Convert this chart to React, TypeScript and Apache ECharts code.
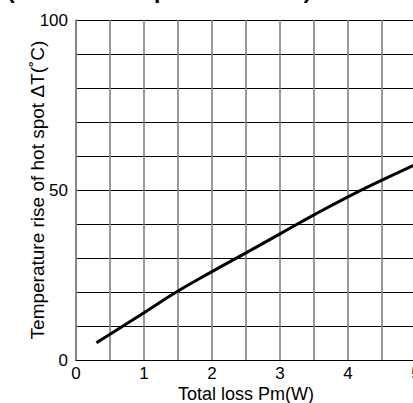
import React, { useEffect, useRef } from "react";
import * as echarts from "echarts";

const titleText = "(Ambient temperature 25°C)";
const xAxisName = "Total loss Pm(W)";
const yAxisName = "Temperature rise of hot spot ΔT(˚C)";
const xTickLabels = ["0", "1", "2", "3", "4", "5"];
const yTickLabels = ["0", "50", "100"];
const lossW = [0.3, 0.5, 1.0, 1.5, 2.0, 2.5, 3.0, 3.5, 4.0, 4.5, 5.0];
const tempRiseC = [5.1, 7.6, 13.9, 20.3, 26.0, 31.5, 37.1, 42.7, 48.0, 52.9, 57.6];

const FONT = '"Liberation Sans", Arial, Helvetica, sans-serif';

export default function App() {
  const ref = useRef<HTMLDivElement>(null);
  useEffect(() => {
    if (!ref.current) return;
    const chart = echarts.init(ref.current, null, { renderer: "svg" });
    chart.setOption({
      animation: false,
      backgroundColor: "#ffffff",
      textStyle: { fontFamily: FONT },
      graphic: [
        {
          type: "text",
          left: 7,
          top: -22,
          style: {
            text: titleText,
            fontFamily: FONT,
            fontSize: 23,
            fontWeight: "bold",
            fill: "#000",
          },
        },
      ],
      grid: {
        left: 76,
        top: 20,
        width: 340,
        height: 340,
        containLabel: false,
        outerBoundsMode: "none",
      },
      xAxis: {
        type: "value",
        min: 0,
        max: 5,
        interval: 0.5,
        name: xAxisName,
        nameLocation: "middle",
        nameGap: 25,
        nameMoveOverlap: false,
        nameTextStyle: { fontFamily: FONT, fontSize: 18, color: "#000" },
        axisLine: { show: true, lineStyle: { color: "#000", width: 1 } },
        axisTick: { show: false },
        axisLabel: {
          fontFamily: FONT,
          fontSize: 17,
          color: "#000",
          margin: 5,
          formatter: (v: number) =>
            Number.isInteger(v) && xTickLabels.includes(String(v)) ? String(v) : "",
        },
        splitLine: { show: true, lineStyle: { color: "#808080", width: 1.6 } },
      },
      yAxis: {
        type: "value",
        min: 0,
        max: 100,
        interval: 10,
        name: yAxisName,
        nameLocation: "middle",
        nameGap: 29,
        nameMoveOverlap: false,
        nameTextStyle: { fontFamily: FONT, fontSize: 19, color: "#000" },
        axisLine: { show: true, lineStyle: { color: "#808080", width: 1.6 } },
        axisTick: { show: false },
        axisLabel: {
          fontFamily: FONT,
          fontSize: 17,
          color: "#000",
          margin: 8,
          formatter: (v: number) => (yTickLabels.includes(String(v)) ? String(v) : ""),
        },
        splitLine: { show: true, lineStyle: { color: "#000", width: 1 } },
      },
      series: [
        {
          type: "line",
          data: lossW.map((x, i) => [x, tempRiseC[i]]),
          smooth: true,
          symbol: "none",
          lineStyle: { color: "#000", width: 3 },
          clip: true,
        },
      ],
    });
    return () => chart.dispose();
  }, []);
  return (
    <div
      ref={ref}
      style={{ position: "fixed", left: 0, top: 0, width: 413, height: 403, background: "#fff" }}
    />
  );
}
